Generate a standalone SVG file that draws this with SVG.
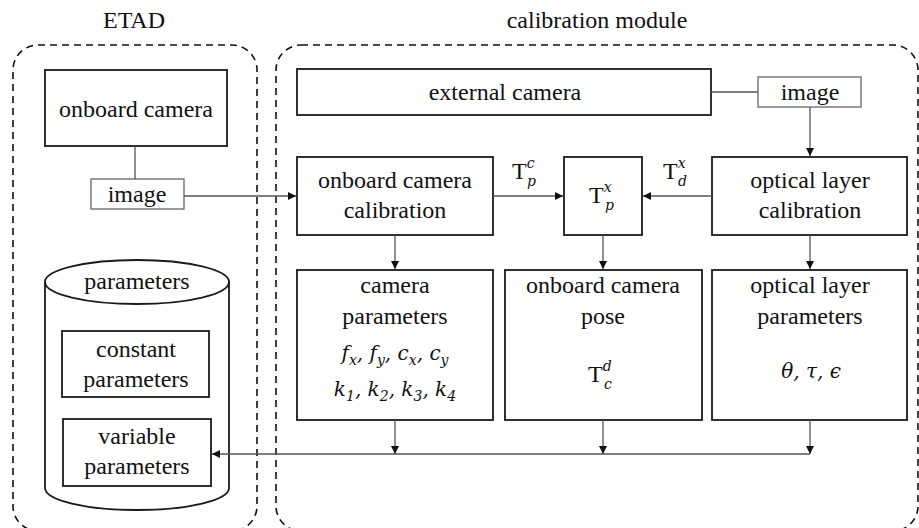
<svg xmlns="http://www.w3.org/2000/svg" width="919" height="528" viewBox="0 0 919 528">
<style>
text{font-family:"Liberation Serif","Times New Roman",serif;font-size:24px;fill:#111}
.box{fill:#fff;stroke:#1a1a1a;stroke-width:1.8}
.gbox{fill:#fff;stroke:#666;stroke-width:1.3}
.dash{fill:none;stroke:#111;stroke-width:1.6;stroke-dasharray:7 5}
.con{fill:none;stroke:#555;stroke-width:1.3}
.arr{fill:none;stroke:#555;stroke-width:1.3;marker-end:url(#ah)}
.m{font-family:"DejaVu Serif","Liberation Serif",serif;font-style:italic;font-size:20px}
.s{font-family:"DejaVu Serif","Liberation Serif",serif;font-style:italic;font-size:14px}
.c{text-anchor:middle}
</style>
<defs>
<marker id="ah" viewBox="0 0 10 10" refX="10" refY="5" markerWidth="8" markerHeight="8" markerUnits="userSpaceOnUse" orient="auto">
<path d="M0,0 L10,5 L0,10 z" fill="#111"/>
</marker>
</defs>
<rect width="919" height="528" fill="#fff"/>

<g id="etad-container">
<rect class="dash" x="13" y="45" width="244" height="486" rx="25"/>
<text class="c" x="134" y="28">ETAD</text>
</g>
<g id="calib-container">
<rect class="dash" x="276" y="45" width="642" height="486" rx="25"/>
<text class="c" x="597" y="28">calibration module</text>
</g>

<g id="onboard-camera">
<rect class="box" x="45" y="70" width="182" height="76"/>
<text class="c" x="136" y="117">onboard camera</text>
</g>
<g id="image-etad">
<rect class="gbox" x="91" y="179" width="93" height="30"/>
<text class="c" x="137" y="202">image</text>
</g>

<g id="parameters-db">
<path class="box" d="M45,282 L45,488 A92,22 0 0 0 229,488 L229,282"/>
<ellipse class="box" cx="137" cy="282" rx="92" ry="22"/>
<text class="c" x="137" y="289">parameters</text>
</g>
<g id="constant-parameters">
<rect class="box" x="62" y="331" width="147" height="66"/>
<text class="c" x="136" y="357">constant</text>
<text class="c" x="136" y="387">parameters</text>
</g>
<g id="variable-parameters">
<rect class="box" x="63" y="419" width="148" height="67"/>
<text class="c" x="137" y="444">variable</text>
<text class="c" x="137" y="474">parameters</text>
</g>

<g id="external-camera">
<rect class="box" x="297" y="69" width="414" height="46"/>
<text class="c" x="505" y="100">external camera</text>
</g>
<g id="image-ext">
<rect class="gbox" x="758" y="77" width="103" height="30"/>
<text class="c" x="810" y="100">image</text>
</g>

<g id="onboard-camera-calibration">
<rect class="box" x="297" y="157" width="196" height="78"/>
<text class="c" x="395" y="188">onboard camera</text>
<text class="c" x="395" y="218">calibration</text>
</g>
<g id="Tpx">
<rect class="box" x="564" y="157" width="78" height="78"/>
<text x="589" y="203">T<tspan class="s" dy="-11">x</tspan><tspan class="s" x="605" dy="18">p</tspan></text>
</g>
<g id="optical-layer-calibration">
<rect class="box" x="712" y="157" width="195" height="78"/>
<text class="c" x="810" y="188">optical layer</text>
<text class="c" x="810" y="218">calibration</text>
</g>

<g id="camera-parameters">
<rect class="box" x="297" y="270" width="196" height="150"/>
<text class="c" x="395" y="293">camera</text>
<text class="c" x="395" y="324">parameters</text>
<text class="c m" x="395" y="360">f<tspan class="s" dy="5">x</tspan><tspan dy="-5">, f</tspan><tspan class="s" dy="5">y</tspan><tspan dy="-5">, c</tspan><tspan class="s" dy="5">x</tspan><tspan dy="-5">, c</tspan><tspan class="s" dy="5">y</tspan></text>
<text class="c m" x="395" y="396">k<tspan class="s" font-style="normal" dy="5">1</tspan><tspan dy="-5">, k</tspan><tspan class="s" font-style="normal" dy="5">2</tspan><tspan dy="-5">, k</tspan><tspan class="s" font-style="normal" dy="5">3</tspan><tspan dy="-5">, k</tspan><tspan class="s" font-style="normal" dy="5">4</tspan></text>
</g>
<g id="onboard-camera-pose">
<rect class="box" x="505" y="270" width="197" height="150"/>
<text class="c" x="603" y="293">onboard camera</text>
<text class="c" x="603" y="324">pose</text>
<text x="588" y="382">T<tspan class="s" dy="-11">d</tspan><tspan class="s" x="604" dy="18">c</tspan></text>
</g>
<g id="optical-layer-parameters">
<rect class="box" x="712" y="270" width="195" height="150"/>
<text class="c" x="810" y="293">optical layer</text>
<text class="c" x="810" y="324">parameters</text>
<text class="c m" x="811" y="378">θ, τ, ϵ</text>
</g>

<g id="connectors">
<line class="con" x1="135" y1="146" x2="135" y2="179"/>
<line class="arr" x1="184" y1="196" x2="296" y2="196"/>
<line class="con" x1="711" y1="92" x2="758" y2="92"/>
<line class="arr" x1="810" y1="107" x2="810" y2="156"/>
<line class="arr" x1="493" y1="196" x2="563" y2="196"/>
<line class="arr" x1="712" y1="196" x2="643" y2="196"/>
<line class="arr" x1="395" y1="235" x2="395" y2="269"/>
<line class="arr" x1="603" y1="235" x2="603" y2="269"/>
<line class="arr" x1="810" y1="235" x2="810" y2="269"/>
<line class="arr" x1="395" y1="420" x2="395" y2="454"/>
<line class="arr" x1="603" y1="420" x2="603" y2="454"/>
<line class="arr" x1="810" y1="420" x2="810" y2="454"/>
<line class="arr" x1="810" y1="454" x2="212" y2="454"/>
<text id="label-Tpc" x="512" y="179">T<tspan class="s" dy="-11">c</tspan><tspan class="s" x="527" dy="18">p</tspan></text>
<text id="label-Tdx" x="663" y="179">T<tspan class="s" dy="-11">x</tspan><tspan class="s" x="678" dy="18">d</tspan></text>
</g>
</svg>
